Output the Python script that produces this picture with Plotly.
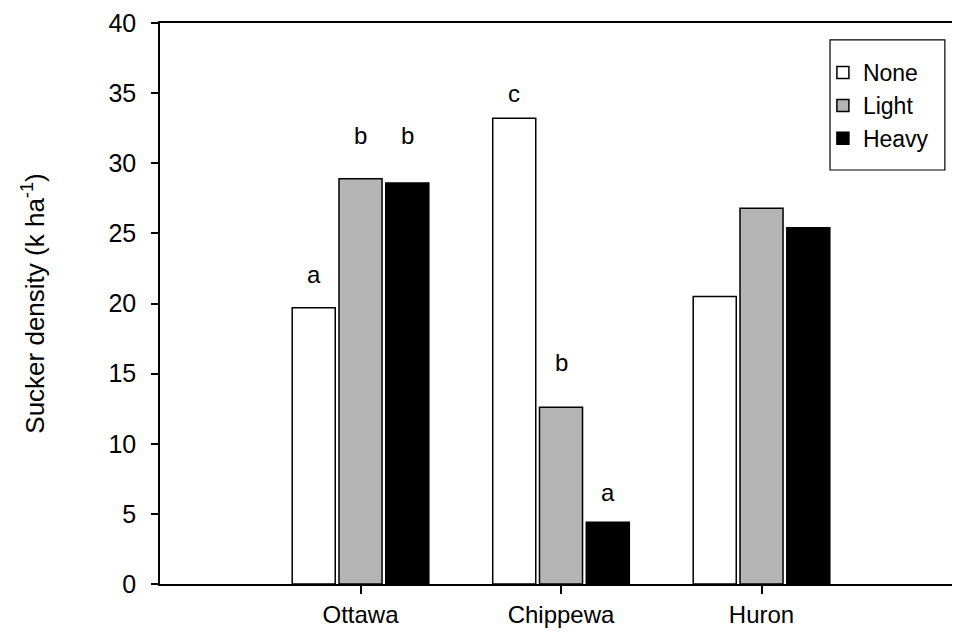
import plotly.graph_objects as go

# Sites and treatment series
sites = ["Ottawa", "Chippewa", "Huron"]
site_pos = [1, 2, 3]

none_vals = [19.7, 33.2, 20.5]
light_vals = [28.9, 12.6, 26.8]
heavy_vals = [28.6, 4.4, 25.4]

# Significance letters per series (empty = no letter) and their heights
none_letters = ["a", "c", ""]
light_letters = ["b", "b", ""]
heavy_letters = ["b", "a", ""]
none_letter_y = [22.1, 35.0, None]
light_letter_y = [32.0, 15.8, None]
heavy_letter_y = [32.0, 6.5, None]

y_ticks = [0, 5, 10, 15, 20, 25, 30, 35, 40]

FONT = "Arial, Liberation Sans, sans-serif"
BARGAP = 0.30
slot = (1 - BARGAP) / 3

series = [
    ("None", none_vals, "white", none_letters, none_letter_y),
    ("Light", light_vals, "#b4b4b4", light_letters, light_letter_y),
    ("Heavy", heavy_vals, "black", heavy_letters, heavy_letter_y),
]

fig = go.Figure()
annotations = []
for j, (name, vals, color, letters, ly) in enumerate(series):
    fig.add_trace(go.Bar(
        x=site_pos, y=vals, name=name, legendgroup=name,
        marker=dict(color=color, line=dict(color="black", width=1.5)),
    ))
    offset = (j - 1) * slot
    for xp, lt, yv in zip(site_pos, letters, ly):
        if lt:
            annotations.append(dict(
                x=xp + offset, y=yv, xref="x", yref="y", text=lt,
                showarrow=False, font=dict(size=24, color="black", family=FONT),
                xanchor="center", yanchor="middle",
            ))

# Frame around the legend
shapes = [dict(type="rect", xref="paper", yref="paper",
               x0=0.846, x1=0.991, y0=0.738, y1=0.970,
               line=dict(color="black", width=1.2), fillcolor="white",
               layer="below")]

fig.update_layout(
    width=953, height=632,
    margin=dict(l=160, r=1, t=23, b=48),
    paper_bgcolor="white", plot_bgcolor="white",
    font=dict(family=FONT, size=25, color="black"),
    barmode="group", bargap=BARGAP, bargroupgap=0.08,
    annotations=annotations,
    shapes=shapes,
    legend=dict(
        x=0.837, y=0.950, xanchor="left", yanchor="top",
        borderwidth=0, bgcolor="rgba(0,0,0,0)",
        font=dict(size=23, family=FONT), tracegroupgap=0,
        itemwidth=30,
    ),
    xaxis=dict(
        range=[0, 3.95], tickvals=site_pos, ticktext=sites,
        showline=True, linecolor="black", linewidth=1.5, mirror=True,
        ticks="outside", ticklen=8, tickwidth=1.5, tickcolor="black",
        showgrid=False, zeroline=False, ticklabelstandoff=0,
        tickfont=dict(size=24), automargin=False,
    ),
    yaxis=dict(
        range=[0, 40], tickvals=y_ticks,
        showline=True, linecolor="black", linewidth=1.5,
        ticks="outside", ticklen=7, tickwidth=1.5, tickcolor="black",
        showgrid=False, zeroline=False, ticklabelstandoff=10,
        tickfont=dict(size=25), automargin=False,
        title=dict(text="Sucker density (k ha<sup>-1</sup>)", standoff=56,
                   font=dict(size=26, family=FONT)),
    ),
)

fig.write_html("out.html")
